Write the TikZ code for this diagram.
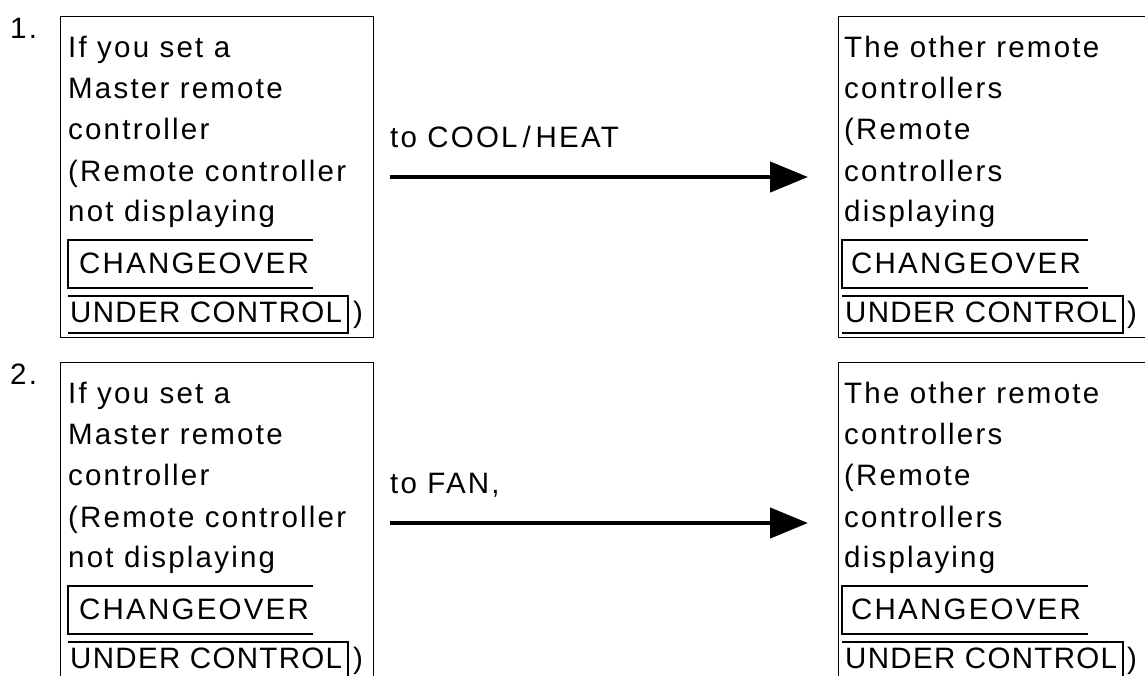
\documentclass[tikz,border=0pt]{standalone}
\usepackage{fontspec}
\setmainfont{Liberation Sans}[LetterSpace=7.5]
\newfontfamily\tightsans{Liberation Sans}[LetterSpace=4.5]
\usetikzlibrary{arrows.meta}
\tikzset{
  outer/.style={draw, line width=1.2pt, inner sep=0pt, anchor=north west},
  txt/.style={inner sep=0pt, anchor=base west, font=\fontsize{29.5}{34}\selectfont},
  tighttxt/.style={txt, font=\tightsans\fontsize{29.5}{34}\selectfont},
  frm/.style={line width=1.6pt},
  flow/.style={line width=4.5pt, -{Triangle[length=38pt,width=30pt]}},
}
% #1 id, #2 vertical shift, #3 number, #4 arrow label, #5 box height
\newcommand\drawrow[5]{%
\begin{scope}[shift={(0,#2)}]
  \node[txt] (num#1) at (10,38) {#3};
  % left box
  \node[outer, minimum width=313pt, minimum height=#5pt] (L#1) at (60,16) {};
  \node[txt] (L#1a) at (68,57) {If you set a};
  \node[txt] (L#1b) at (68,98) {Master remote};
  \node[txt] (L#1c) at (68,139) {controller};
  \node[txt] (L#1d) at (68,181) {(Remote controller};
  \node[txt] (L#1e) at (68,221) {not displaying};
  \node[txt] (L#1f) at (79,273) {CHANGEOVER};
  \node[tighttxt] (L#1g) at (70,322) {UNDER CONTROL};
  \node[txt] (L#1h) at (353,322) {)};
  \draw[frm] (313,240) -- (68,240) -- (68,288) -- (313,288);
  \draw[frm] (68,296) -- (348,296) -- (348,333) -- (68,333);
  % right box
  \node[outer, minimum width=340pt, minimum height=#5pt] (R#1) at (838,16) {};
  \node[txt] (R#1a) at (844,57) {The other remote};
  \node[txt] (R#1b) at (844,98) {controllers};
  \node[txt] (R#1c) at (844,139) {(Remote};
  \node[txt] (R#1d) at (844,181) {controllers};
  \node[txt] (R#1e) at (844,221) {displaying};
  \node[txt] (R#1f) at (851,273) {CHANGEOVER};
  \node[tighttxt] (R#1g) at (845,322) {UNDER CONTROL};
  \node[txt] (R#1h) at (1127,322) {)};
  \draw[frm] (1088,240) -- (842,240) -- (842,288) -- (1088,288);
  \draw[frm] (842,296) -- (1123,296) -- (1123,333) -- (842,333);
  % arrow
  \coordinate (s#1) at (390,177);
  \coordinate (e#1) at (808,177);
  \draw[flow] (s#1) -- (e#1);
  \node[txt] (lab#1) at (390,147) {#4};
\end{scope}}
\begin{document}
\begin{tikzpicture}[x=1pt,y=-1pt]
  \clip (0,0) rectangle (1145,675);
  \fill[white] (0,0) rectangle (1145,675);
  \drawrow{1}{0}{1.}{to COOL\,/\,HEAT}{321}
  \drawrow{2}{346}{2.}{to FAN,}{360}
\end{tikzpicture}
\end{document}
